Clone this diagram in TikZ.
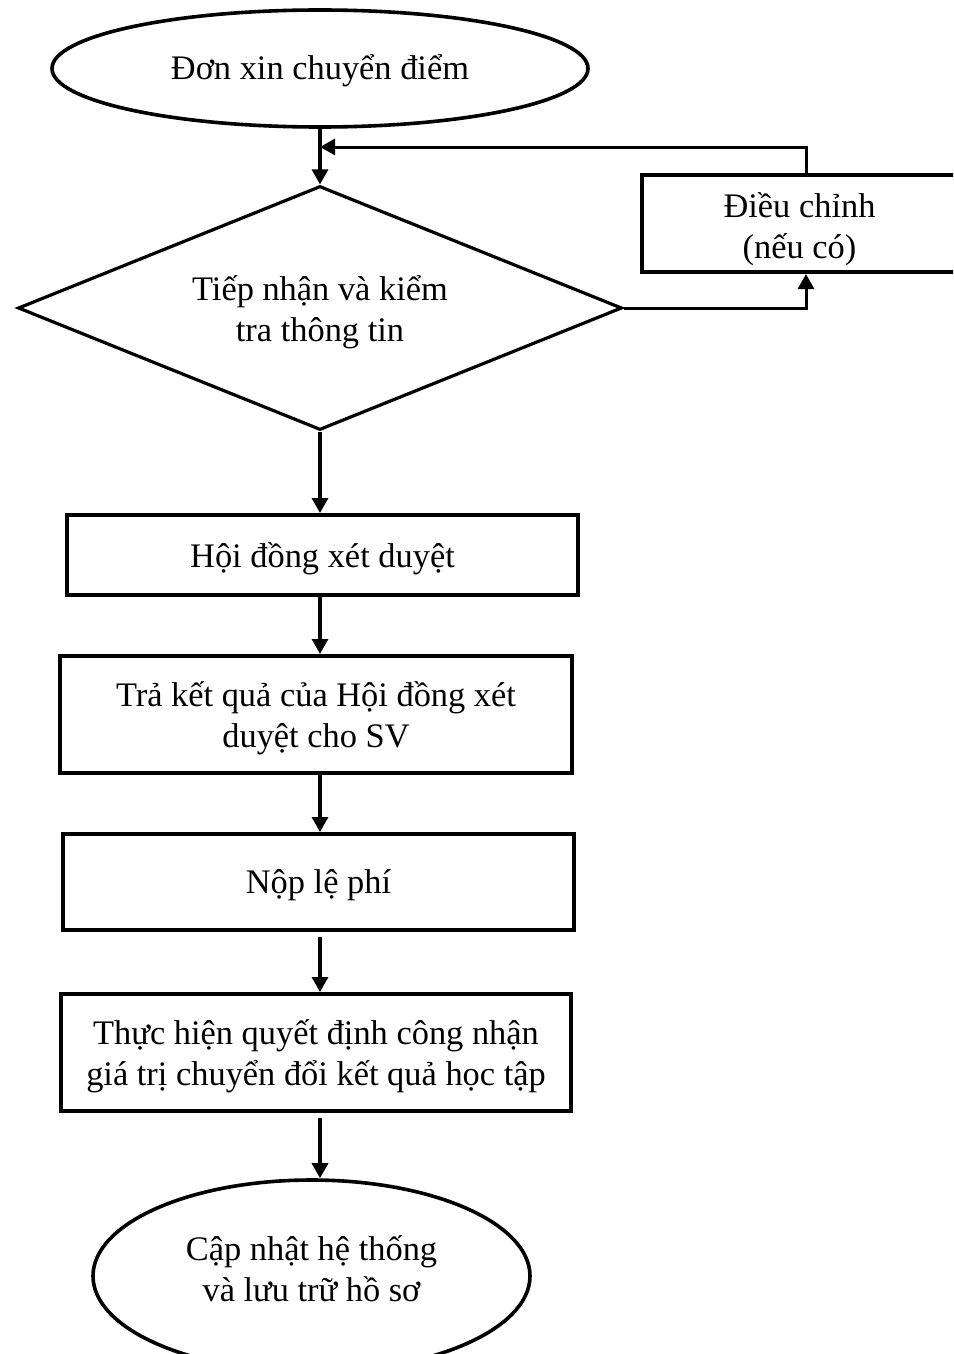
\documentclass[tikz,border=0pt]{standalone}
\usepackage{fontspec}
\setmainfont{Liberation Serif}
\usetikzlibrary{shapes.geometric,arrows.meta,calc}
\newcommand{\mytxt}[2]{\raisebox{#1}[\height][\depth]{\begin{tabular}{@{}c@{}}#2\end{tabular}}}
\begin{document}
\begin{tikzpicture}[x=0.5pt,y=-0.5pt,
  every node/.style={font=\fontsize{17.2}{20.5}\selectfont, align=center, inner sep=0pt},
  oval/.style={draw, ellipse, line width=1.8pt},
  proc/.style={draw, rectangle, line width=2pt},
  dec/.style={draw, diamond, line width=1.6pt, shape aspect=2.5},
  conn/.style={line width=1.65pt},
  arr/.style={conn, -{Triangle[length=7.5pt,width=8pt]}}
]
\useasboundingbox (0,0) rectangle (953,1354);
\fill[white] (0,0) rectangle (953,1354);
\clip (0,0) rectangle (953,1354);

\node[oval, minimum width=268pt, minimum height=58.5pt] (start) at (320,68.5) {\mytxt{-1.5pt}{Đơn xin chuyển điểm}};
\node[dec, minimum width=302pt, minimum height=122pt] (chk) at (320,308) {\mytxt{-2.5pt}{Tiếp nhận và kiểm\\tra thông tin}};
\node[proc, minimum width=157.5pt, minimum height=48.5pt] (adj) at (799.5,223.5) {\mytxt{-3pt}{Điều chỉnh\\(nếu có)}};
\node[proc, minimum width=255.5pt, minimum height=40pt] (b1) at (322.5,555) {\mytxt{-2pt}{Hội đồng xét duyệt}};
\node[proc, minimum width=256pt, minimum height=58.5pt] (b2) at (316,714.5) {\mytxt{-2pt}{Trả kết quả của Hội đồng xét\\duyệt cho SV}};
\node[proc, minimum width=255.5pt, minimum height=48pt] (b3) at (318.5,882) {\mytxt{-1.5pt}{Nộp lệ phí}};
\node[proc, minimum width=255pt, minimum height=58.5pt] (b4) at (316,1052.5) {\mytxt{-2pt}{Thực hiện quyết định công nhận\\giá trị chuyển đổi kết quả học tập}};
\node[oval, minimum width=218.5pt, minimum height=96pt] (end) at (311.5,1276) {\mytxt{1.5pt}{Cập nhật hệ thống\\và lưu trữ hồ sơ}};

\coordinate (col) at (320,0);
\coordinate (fbx) at (806,0);
\coordinate (merge) at (320,147);

\draw[arr] (start.south -| col) -- (chk.north);
\draw[arr, line width=1.5pt] (chk.east) -| (adj.south -| fbx);
\draw[arr, line width=1.5pt] (adj.north -| fbx) |- (merge);
\draw[arr] (chk.south) -- (b1.north -| col);
\draw[arr] (b1.south -| col) -- (b2.north -| col);
\draw[arr] (b2.south -| col) -- (b3.north -| col);
\draw[arr, shorten <=2.5pt] (b3.south -| col) -- (b4.north -| col);
\draw[arr, shorten <=2.5pt] (b4.south -| col) -- (end.north -| col);
\end{tikzpicture}
\end{document}
